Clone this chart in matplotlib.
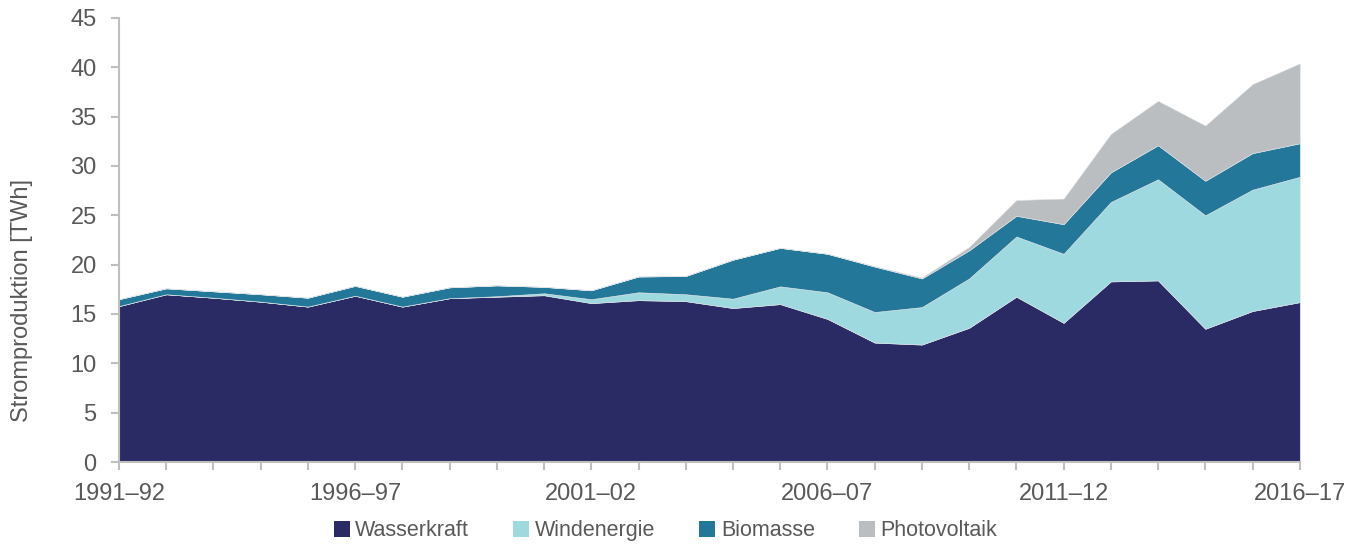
import matplotlib
matplotlib.use("Agg")
import matplotlib.pyplot as plt
from matplotlib.patches import Patch

plt.rcParams['font.family'] = ['Liberation Sans', 'DejaVu Sans']

# Hydrologische Jahre 1991–92 bis 2016–17
seasons = ["1991–92", "1992–93", "1993–94", "1994–95", "1995–96", "1996–97",
           "1997–98", "1998–99", "1999–00", "2000–01", "2001–02", "2002–03",
           "2003–04", "2004–05", "2005–06", "2006–07", "2007–08", "2008–09",
           "2009–10", "2010–11", "2011–12", "2012–13", "2013–14", "2014–15",
           "2015–16", "2016–17"]

# Stromproduktion in TWh
wasserkraft = [15.8, 17.0, 16.65, 16.25, 15.75, 16.85, 15.75, 16.6, 16.75, 16.9,
               16.1, 16.4, 16.3, 15.6, 16.0, 14.5, 12.1, 11.9, 13.6, 16.75,
               14.1, 18.3, 18.4, 13.5, 15.3, 16.2]
windenergie = [0.0, 0.0, 0.0, 0.0, 0.0, 0.0, 0.0, 0.0, 0.05, 0.2,
               0.4, 0.8, 0.7, 0.95, 1.8, 2.7, 3.1, 3.8, 5.0, 6.1,
               7.0, 8.05, 10.25, 11.5, 12.3, 12.7]
biomasse = [0.7, 0.6, 0.65, 0.75, 0.9, 1.0, 1.0, 1.1, 1.1, 0.65,
            0.9, 1.6, 1.85, 3.95, 3.9, 3.9, 4.6, 2.9, 2.85, 2.1,
            3.0, 3.0, 3.45, 3.5, 3.7, 3.4]
photovoltaik = [0.0, 0.0, 0.0, 0.0, 0.0, 0.0, 0.0, 0.0, 0.0, 0.0,
                0.0, 0.0, 0.0, 0.0, 0.0, 0.0, 0.05, 0.1, 0.35, 1.6,
                2.6, 3.9, 4.5, 5.6, 7.0, 8.1]

labels = ["Wasserkraft", "Windenergie", "Biomasse", "Photovoltaik"]
colors = ["#2a2b64", "#9fd9e0", "#237899", "#bbbec1"]
text_color = "#595959"
axis_color = "#bfbfbf"

x = list(range(len(seasons)))

fig = plt.figure(figsize=(13.61, 5.44), dpi=100)
ax = fig.add_axes([0.0874, 0.1507, 0.8676, 0.8163])

ax.stackplot(x, wasserkraft, windenergie, biomasse, photovoltaik,
             colors=colors, edgecolor="#dfe3e6", linewidth=0.4)

ax.set_xlim(0, len(seasons) - 1)
ax.set_ylim(0, 45)
ax.set_yticks(range(0, 46, 5))
ax.set_xticks(x)
ax.set_xticklabels([s if i % 5 == 0 else "" for i, s in enumerate(seasons)])

for side in ["top", "right"]:
    ax.spines[side].set_visible(False)
for side in ["left", "bottom"]:
    ax.spines[side].set_color(axis_color)
    ax.spines[side].set_linewidth(1.5)

ax.tick_params(axis="both", colors=axis_color, width=1.5, length=6,
               labelsize=17, labelcolor=text_color)
ax.tick_params(axis="x", pad=9)
ax.tick_params(axis="y", pad=10)

fig.text(22 / 1361, 0.447, "Stromproduktion [TWh]",
         rotation=90, ha="center", va="center", fontsize=17, color=text_color)

handles = [Patch(facecolor=c, edgecolor="none") for c in colors]
fig.legend(handles, labels, loc="center", bbox_to_anchor=(0.489, 0.024),
           ncol=4, frameon=False, fontsize=15.5, labelcolor=text_color,
           handlelength=0.75, handleheight=0.75, handletextpad=0.25,
           columnspacing=2.05)

fig.savefig("out.png", dpi=100)
